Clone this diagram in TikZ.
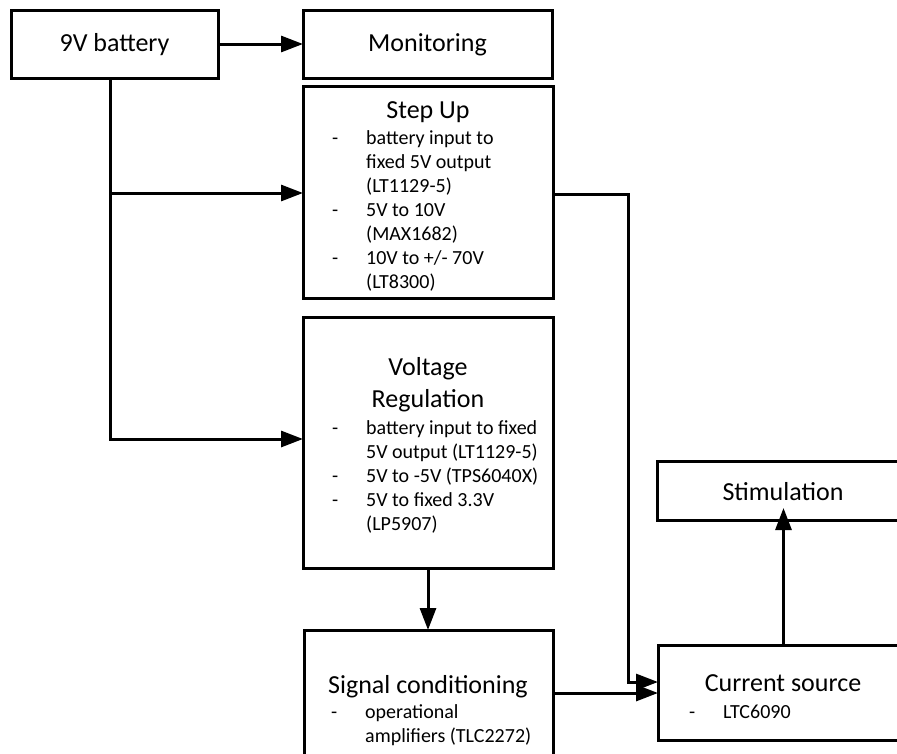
\documentclass[tikz,border=0pt]{standalone}
\usepackage{fontspec}
\setmainfont{Carlito}
\usetikzlibrary{arrows.meta,fit}
\newcommand{\titlefont}{\fontsize{26}{32}\selectfont}
\newcommand{\bodyfont}{\fontsize{20}{24}\selectfont}
\newcommand{\itemdash}{\makebox[34pt][l]{-}}
\begin{document}
\begin{tikzpicture}[x=1pt,y=-1pt,
  box/.style={draw, line width=3pt, inner sep=0pt, outer sep=0pt},
  ttl/.style={inner sep=0pt, anchor=base, font=\titlefont, align=center},
  body/.style={inner sep=0pt, anchor=base west, font=\bodyfont},
  conn/.style={line width=3pt},
  arr/.style={line width=3pt, -{Triangle[length=22pt,width=16pt]}}]
\useasboundingbox (0,0) rectangle (897,753);
\clip (0,0) rectangle (897,753);

% boxes
\node[box, fit={(11,10) (218,78)}] (bat) {};
\node[box, fit={(303,10) (552,78)}] (mon) {};
\node[box, fit={(303,86) (553,298)}] (su) {};
\node[box, fit={(303,317) (553,568)}] (vr) {};
\node[box, fit={(304,630) (553,790)}] (sc) {};
\node[box, fit={(658,645) (910,740)}] (cs) {};
\node[box, fit={(657,461) (910,520)}] (stim) {};

% texts
\node[ttl] (tbat) at (114.5,51) {9V battery};
\node[ttl] (tmon) at (427.5,51) {Monitoring};
\node[ttl] (tsu) at (428,118) {Step Up};
\node[body] (bsu) at (332,144) {\begin{tabular}[t]{@{}l@{}}
\itemdash battery input to\\
\hspace{34pt}fixed 5V output\\
\hspace{34pt}(LT1129-5)\\
\itemdash 5V to 10V\\
\hspace{34pt}(MAX1682)\\
\itemdash 10V to +/- 70V\\
\hspace{34pt}(LT8300)
\end{tabular}};
\node[ttl] (tvr) at (428,407) {Voltage\\Regulation};
\node[body] (bvr) at (332,434) {\begin{tabular}[t]{@{}l@{}}
\itemdash battery input to fixed\\
\hspace{34pt}5V output (LT1129-5)\\
\itemdash 5V to -5V (TPS6040X)\\
\itemdash 5V to fixed 3.3V\\
\hspace{34pt}(LP5907)
\end{tabular}};
\node[ttl] (tsc) at (428,693) {Signal conditioning};
\node[body] (bsc) at (331,718) {\begin{tabular}[t]{@{}l@{}}
\itemdash operational\\
\hspace{34pt}amplifiers (TLC2272)
\end{tabular}};
\node[ttl] (tcs) at (783,691) {Current source};
\node[body] (bcs) at (689,718) {\itemdash LTC6090};
\node[ttl] (tstim) at (783,500) {Stimulation};

% connectors
\coordinate (j1) at (110,193);
\coordinate (j2) at (110,439);
\coordinate (b1) at (628,194);
\coordinate (b2) at (628,682);
\coordinate (c1) at (600,693);
\draw[arr] (bat.east) -- (mon.west);
\draw[conn] (bat.south -| j2) -- (j1);
\draw[arr] (j1) -- (su.west |- j1);
\draw[arr] (j1) -- (j2) -- (vr.west |- j2);
\draw[arr] (su.east |- b1) -- (b1) -- (b2) -- (cs.west |- b2);
\draw[arr] (sc.east |- c1) -- (cs.west |- c1);
\draw[arr] (vr.south) -- (vr.south |- sc.north);
\draw[arr, shorten >=-12pt] (cs.north -| stim.south) -- (stim.south);
\end{tikzpicture}
\end{document}
